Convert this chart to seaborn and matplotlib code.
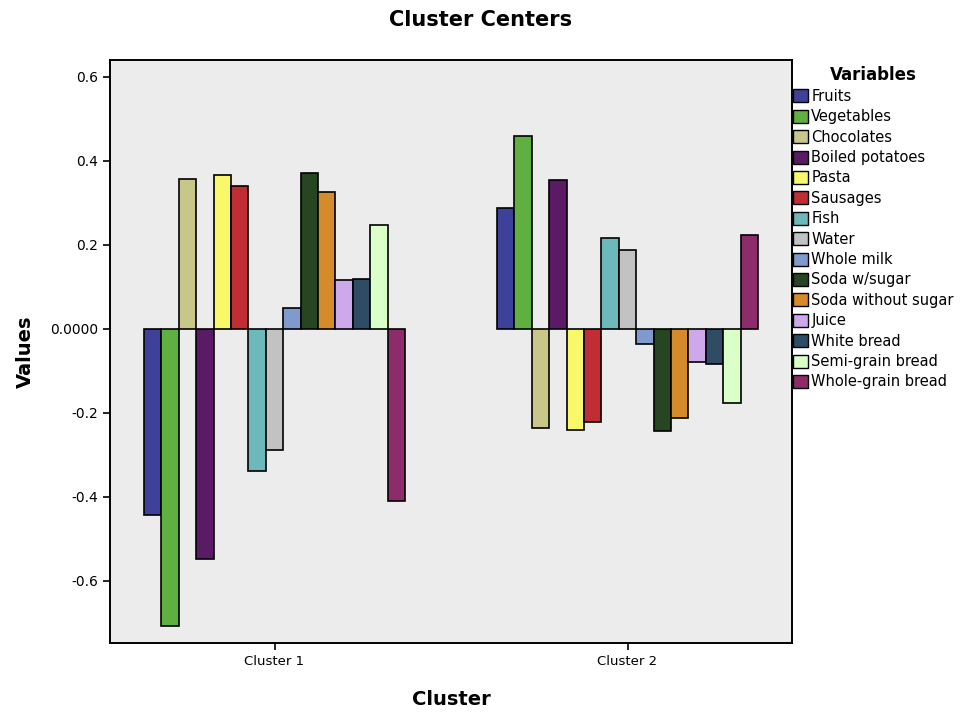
import matplotlib
matplotlib.use("Agg")
import matplotlib.pyplot as plt
from matplotlib.patches import Patch
import seaborn as sns
import pandas as pd

clusters = ["Cluster 1", "Cluster 2"]
variables = ["Fruits", "Vegetables", "Chocolates", "Boiled potatoes", "Pasta",
             "Sausages", "Fish", "Water", "Whole milk", "Soda w/sugar",
             "Soda without sugar", "Juice", "White bread", "Semi-grain bread",
             "Whole-grain bread"]
cluster1 = [-0.443, -0.707, 0.357, -0.548, 0.367, 0.340, -0.338, -0.288,
            0.050, 0.371, 0.326, 0.117, 0.119, 0.248, -0.410]
cluster2 = [0.288, 0.460, -0.235, 0.355, -0.240, -0.222, 0.217, 0.188,
            -0.035, -0.243, -0.212, -0.078, -0.083, -0.176, 0.223]
colors = ["#3E4199", "#5FB040", "#C8C78A", "#5A1A66", "#F8F86A",
          "#C12D35", "#6DB8BA", "#C2C2C2", "#7F9ACD", "#254620",
          "#D68B2A", "#CDA8EB", "#2E4C63", "#DAFFC8", "#8E2B6B"]
ytick_vals = [0.6, 0.4, 0.2, 0.0, -0.2, -0.4, -0.6]
ytick_labels = ["0.6", "0.4", "0.2", "0.0000", "-0.2", "-0.4", "-0.6"]

rows = []
for v, a, b in zip(variables, cluster1, cluster2):
    rows.append({"Cluster": clusters[0], "Variable": v, "Value": a})
    rows.append({"Cluster": clusters[1], "Variable": v, "Value": b})
df = pd.DataFrame(rows)

sns.set_theme(style="white")
plt.rcParams["font.family"] = ["DejaVu Sans"]
plt.rcParams["text.color"] = "black"
plt.rcParams["axes.labelcolor"] = "black"

fig = plt.figure(figsize=(9.6, 7.12), dpi=100)
ax = fig.add_axes([0.1146, 0.0969, 0.7104, 0.8188])
ax.set_facecolor("#ECECEC")

sns.barplot(data=df, x="Cluster", y="Value", hue="Variable",
            hue_order=variables, order=clusters,
            palette=colors, width=0.74, edgecolor="black", linewidth=1.2,
            errorbar=None, legend=False, ax=ax, saturation=1)

ax.set_xlim(-0.466, 1.466)
ax.set_ylim(-0.748, 0.640)
ax.set_yticks(ytick_vals)
ax.set_yticklabels(ytick_labels, fontsize=10)
ax.tick_params(axis="x", labelsize=9.5)
ax.tick_params(axis="both", direction="out", length=5, width=1.2,
               color="black", labelcolor="black", left=True, bottom=True)
for s in ax.spines.values():
    s.set_color("black")
    s.set_linewidth(1.4)

ax.set_xlabel("Cluster", fontsize=14, fontweight="bold", labelpad=16,
              color="black")
ax.set_ylabel("Values", fontsize=14, fontweight="bold", labelpad=11,
              color="black")
fig.text(0.501, 0.972, "Cluster Centers", ha="center", va="center",
         fontsize=15, fontweight="bold", color="black")

handles = [Patch(facecolor=c, edgecolor="black", linewidth=1.0, label=v)
           for c, v in zip(colors, variables)]
leg = fig.legend(handles=handles, loc="upper left",
                 bbox_to_anchor=(0.826, 0.908), frameon=False,
                 title="Variables", fontsize=10.5, handlelength=1.0,
                 handleheight=1.0, handletextpad=0.25, labelspacing=0.37,
                 borderaxespad=0, borderpad=0)
leg.get_title().set_fontweight("bold")
leg.get_title().set_fontsize(12)
leg.get_title().set_color("black")
for t in leg.get_texts():
    t.set_color("black")

fig.savefig("out.png", dpi=100)
